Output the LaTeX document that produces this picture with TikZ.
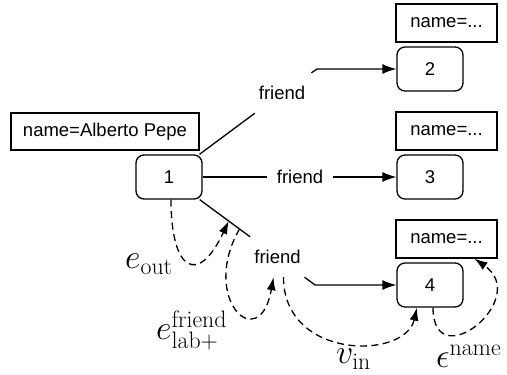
\documentclass[tikz,border=0pt]{standalone}
\usepackage{fix-cm}
\usepackage{fontspec}
\newfontfamily\sansnode{Liberation Sans}
\usetikzlibrary{arrows.meta,calc}

\begin{document}
\begin{tikzpicture}[x=1pt,y=1pt,
  every node/.style={font=\sansnode\fontsize{18.5}{22}\selectfont},
  attr/.style={draw,line width=1.3pt,minimum width=101pt,minimum height=38pt},
  vert/.style={draw,rounded corners=8pt,line width=1.3pt,minimum width=66pt,minimum height=44pt},
  rellab/.style={minimum width=65pt,minimum height=40pt,inner sep=0pt},
  rel/.style={line width=1.3pt},
  relarrow/.style={rel,-{Latex[length=14pt,width=10pt]}},
  dep/.style={line width=1.3pt,dash pattern=on 7pt off 4.5pt,-{Latex[length=13pt,width=9pt]}},
  mathlab/.style={font=\fontsize{34}{40}\selectfont,inner sep=0pt,anchor=base west}]
\useasboundingbox (0,0) rectangle (507,375);

% vertices and their names
\node[attr,minimum width=188pt,minimum height=37pt] (nameA) at (105,243.5) {name=Alberto Pepe};
\node[vert] (n1) at (169,198) {1};
\node[vert] (n2) at (430,306) {2};
\node[vert] (n3) at (430,198) {3};
\node[vert] (n4) at (430,90) {4};
\node[attr] (nm2) at (446.5,352) {name=...};
\node[attr] (nm3) at (446.5,244) {name=...};
\node[attr] (nm4) at (446.5,136) {name=...};

% edges
\node[rellab] (f1) at (282,282) {friend};
\node[rellab] (f2) at (300,198) {friend};
\node[rellab] (f3) at (277.5,118) {friend};
\coordinate (k1) at (317,306);
\coordinate (k3) at (315,90);
\draw[rel] (n1) -- (f1);
\draw[relarrow] (f1) -- (k1) -- (n2);
\draw[rel] (n1) -- (f2);
\draw[relarrow] (f2) -- (n3);
\draw[rel] (n1) -- (f3);
\draw[relarrow] (f3) -- (k3) -- (n4);

% traversal steps
\coordinate (eo) at ($(n1)!0.55!(f3)$);
\coordinate (eb) at ($(n1)!0.65!(f3)$);
\draw[dep] ([xshift=2pt]n1.south) to[out=-90,in=-115,looseness=3] (eo);
\draw[dep] (eb) to[out=-120,in=-100,looseness=3.5] ([xshift=-4pt]f3.south);
\draw[dep] ([xshift=6pt]f3.south) .. controls (283.5,15) and (405,15) .. ([xshift=-13pt]n4.south);
\draw[dep] ([xshift=3pt]n4.south) to[out=-90,in=-35,looseness=2.8] ([xshift=28pt]nm4.south);

\node[mathlab] (lout) at (125,106) {$e_{\mathrm{out}}$};
\node[mathlab] (llab) at (156,35) {$e^{\mathrm{friend}}_{\mathrm{lab+}}$};
\node[mathlab] (lin) at (336,11) {$v_{\mathrm{in}}$};
\node[mathlab] (lname) at (436,7) {$\epsilon^{\mathrm{name}}$};
\end{tikzpicture}
\end{document}
